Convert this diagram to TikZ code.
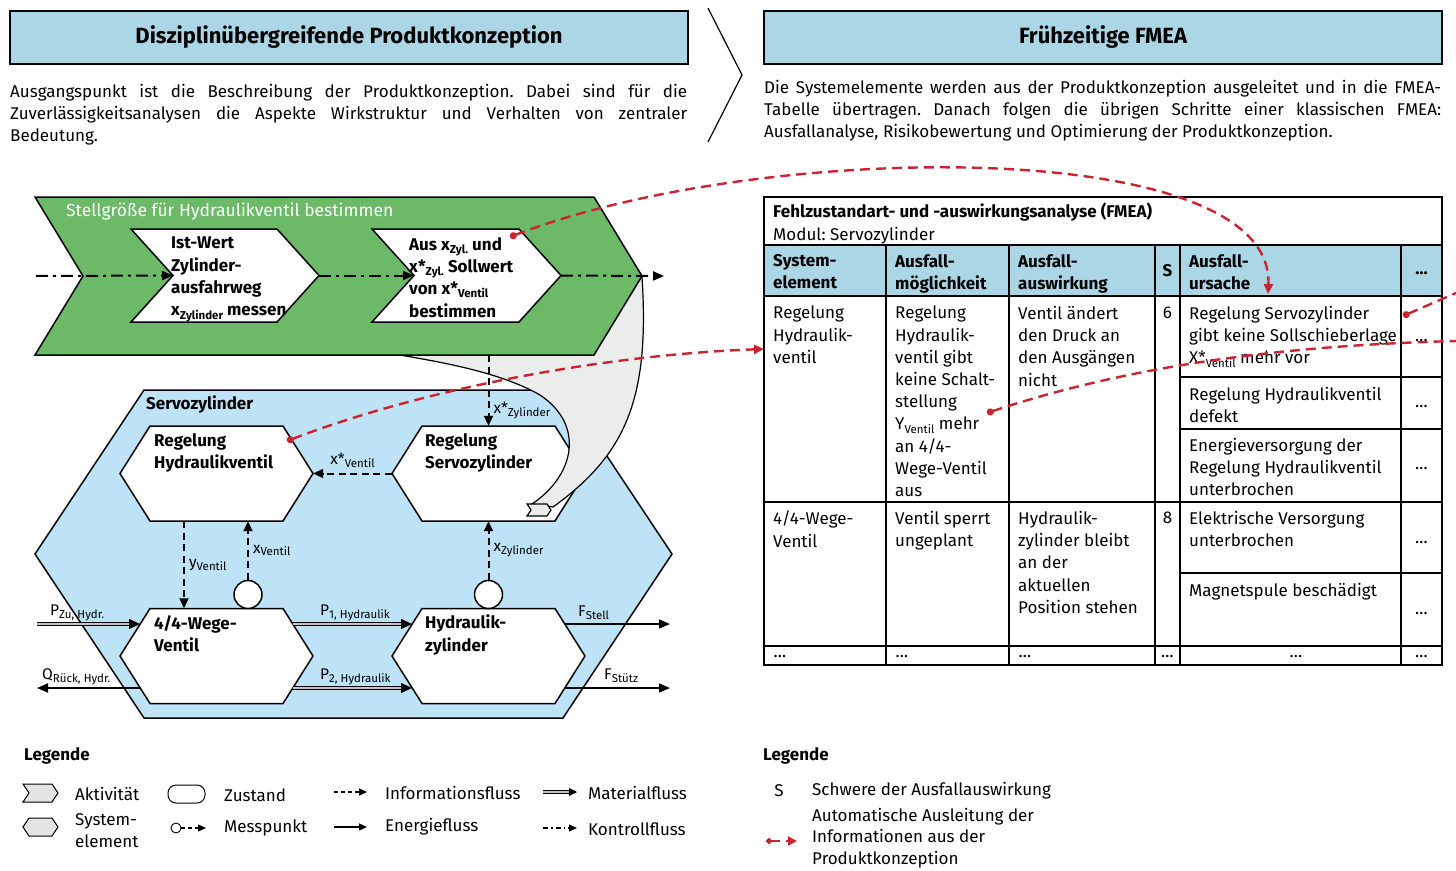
\documentclass[tikz,border=0pt]{standalone}
\usepackage{fontspec}
\setmainfont{Fira Sans}
\usetikzlibrary{arrows.meta,calc}
\definecolor{hdrblue}{RGB}{170,214,229}
\definecolor{hexblue}{RGB}{190,227,246}
\definecolor{actgreen}{RGB}{108,186,104}
\definecolor{ribgray}{RGB}{235,236,236}
\definecolor{fmeared}{RGB}{204,36,46}
\definecolor{icongray}{RGB}{228,228,228}
\newcommand{\ftext}{\fontsize{17}{22.2}\selectfont}
\newcommand{\flab}{\fontsize{15.5}{18}\selectfont}
\newcommand{\lidx}[1]{\raisebox{-0.35ex}{\fontsize{11.5}{12}\selectfont #1}}
\newcommand{\hexshape}[7]{%
  \path[#7] (#2-#4,#3) -- (#2-#4+#6,#3-#5) -- (#2+#4-#6,#3-#5) -- (#2+#4,#3) -- (#2+#4-#6,#3+#5) -- (#2-#4+#6,#3+#5) -- cycle;
  \node[inner sep=0pt,minimum width=2*#4,minimum height=2*#5] (#1) at (#2,#3) {};}
\newcommand{\chevshape}[7]{%
  \path[#7] (#2,#4) -- (#3,#4) -- (#3+#6,{(#4+#5)/2}) -- (#3,#5) -- (#2,#5) -- (#2+#6,{(#4+#5)/2}) -- cycle;
  \coordinate (#1-in) at (#2+#6,{(#4+#5)/2});
  \coordinate (#1-out) at (#3+#6,{(#4+#5)/2});
  \node[inner sep=0pt,minimum width=#3+#6-#2,minimum height=#5-#4] (#1) at ({(#2+#3+#6)/2},{(#4+#5)/2}) {};}
\frenchspacing
\begin{document}
\begin{tikzpicture}[x=1pt,y=-1pt,
  every node/.style={inner sep=0pt},
  hdrbox/.style={draw=black,line width=1.5pt,fill=hdrblue,font=\bfseries\fontsize{22}{26}\selectfont},
  para/.style={anchor=north west,align=justify,font=\ftext},
  hexfill/.style={fill=white,draw=black,line width=1.5pt},
  hextext/.style={anchor=north west,align=left,font=\bfseries\fontsize{17}{22.3}\selectfont},
  info/.style={line width=2pt,dash pattern=on 7pt off 4.5pt,-{Triangle[length=10pt,width=9pt]}},
  ctrl/.style={line width=2pt,dash pattern=on 12pt off 5pt on 3pt off 5pt,-{Triangle[length=11pt,width=9pt]}},
  energy/.style={line width=1.6pt,-{Triangle[length=11pt,width=9pt]}},
  mat/.style={draw=black,double=gray!45,double distance=2.2pt,line width=1.1pt,-{Triangle[length=11pt,width=10pt]}},
  mcircle/.style={circle,draw=black,fill=white,line width=1.5pt,minimum size=28pt},
  lab/.style={font=\flab},
  tcell/.style={anchor=north west,align=left,font=\ftext},
  thead/.style={anchor=north west,align=left,font=\bfseries\ftext},
  tdots/.style={font=\ftext},
  reddash/.style={draw=fmeared,line width=2.4pt,dash pattern=on 10pt off 6pt},
  redarrow/.style={reddash,{Circle[length=7pt]}-{Triangle[length=10pt,width=9pt]}},
  legtext/.style={anchor=west,font=\ftext}]
\useasboundingbox (0,0) rectangle (1456,870);

% ---------------- headers ----------------
\node[hdrbox,minimum width=678,minimum height=53] (hL) at (349,37.5) {Disziplinübergreifende Produktkonzeption};
\node[hdrbox,minimum width=678,minimum height=53] (hR) at (1103,37.5) {Frühzeitige FMEA};
\draw[line width=1.2pt] (708,8) -- (742,75) -- (708,142);
\node[para,text width=677] (pL) at (10,84) {Ausgangspunkt ist die Beschreibung der Produktkonzeption. Dabei sind für die\linebreak Zuverlässigkeitsanalysen die Aspekte Wirkstruktur und Verhalten von zentraler\linebreak Bedeutung.};
\node[para,text width=677] (pR) at (764,80) {Die Systemelemente werden aus der Produktkonzeption ausgeleitet und in die FMEA-\linebreak Tabelle übertragen. Danach folgen die übrigen Schritte einer klassischen FMEA:\linebreak Ausfallanalyse, Risikobewertung und Optimierung der Produktkonzeption.};

% ---------------- system elements ----------------
\hexshape{servo}{353.5}{554}{318.5}{164}{109}{fill=hexblue,draw=black,line width=1.5pt}
\hexshape{rhv}{216.5}{473.5}{96.5}{47.5}{30}{hexfill}
\hexshape{rsz}{488.5}{473.5}{96.5}{47.5}{30}{hexfill}
\hexshape{wv}{216.5}{656}{96.5}{47.5}{30}{hexfill}
\hexshape{hz}{488.5}{656}{96.5}{47.5}{30}{hexfill}
\node[anchor=west,font=\bfseries\ftext] (servoT) at (146,404) {Servozylinder};
\node[hextext] (rhvT) at (154,433) {Regelung\\Hydraulikventil};
\node[hextext] (rszT) at (425,433) {Regelung\\Servozylinder};
\node[hextext] (wvT) at (154,615) {4/4-Wege-\\Ventil};
\node[hextext] (hzT) at (425,615) {Hydraulik-\\zylinder};

% ---------------- grey ribbon ----------------
\path[fill=ribgray,draw=black,line width=1.2pt] (642,277) .. controls (650,400) and (625,455) .. (553,507) -- (532,504) .. controls (575,475) and (585,425) .. (540,395) .. controls (500,372) and (440,362) .. (400,355) -- cycle;
\path[fill=ribgray,draw=black,line width=1.2pt] (527,504) -- (547,504) -- (551,510) -- (547,516) -- (527,516) -- (531,510) -- cycle;

% ---------------- activities ----------------
\chevshape{act}{35}{594}{197}{355}{48}{fill=actgreen,draw=black,line width=1.5pt}
\chevshape{c1}{131}{277}{229}{322}{42}{fill=white,draw=black,line width=1.5pt}
\chevshape{c2}{372}{519}{229}{322}{42}{fill=white,draw=black,line width=1.5pt}
\node[anchor=west,text=white,font=\fontsize{17.5}{20}\selectfont] (actT) at (66,212) {Stellgröße für Hydraulikventil bestimmen};
\node[hextext] (c1T) at (171,237) {Ist-Wert\\Zylinder-\\ausfahrweg\\x\lidx{Zylinder} messen};
\node[hextext] (c2T) at (409,237) {Aus x\lidx{Zyl.} und\\x*\lidx{Zyl.} Sollwert\\von x*\lidx{Ventil}\\bestimmen};
\coordinate (flowStart) at (36,276);
\draw[ctrl] (flowStart) -- (c1-in);
\draw[ctrl] (c1-out) -- (c2-in);
\draw[ctrl] (c2-out) -- ([xshift=22pt]act-out);

% ---------------- information flows ----------------
\node[mcircle] (mV) at (248,594.5) {};
\node[mcircle] (mZ) at (488.5,594.5) {};
\draw[info] (act.south -| rsz.north) -- (rsz.north) node[pos=0.78,right=4pt,lab] {x*\lidx{Zylinder}};
\draw[info] (rsz.west) -- (rhv.east) node[midway,above=5pt,lab] {x*\lidx{Ventil}};
\draw[info] ([xshift=-32.5pt]rhv.south) -- ([xshift=-32.5pt]wv.north) node[midway,right=4pt,lab] {y\lidx{Ventil}};
\draw[info] (mV.north) -- ([xshift=31.5pt]rhv.south) node[midway,right=4pt,lab] {x\lidx{Ventil}};
\draw[info] (mZ.north) -- (rsz.south) node[midway,right=4pt,lab] {x\lidx{Zylinder}};

% ---------------- material / energy flows ----------------
\coordinate (pzuS) at (37,624);
\coordinate (qEnd) at (37,688);
\coordinate (fstellE) at (670,624);
\coordinate (fstuetzE) at (670,688);
\draw[mat] (pzuS) -- ($(wv.west)+(20.2,-32)$);
\draw[energy] ($(wv.west)+(20.2,32)$) -- (qEnd);
\draw[mat] ($(wv.east)+(-20.2,-32)$) -- ($(hz.west)+(20.2,-32)$);
\draw[mat] ($(wv.east)+(-20.2,32)$) -- ($(hz.west)+(20.2,32)$);
\draw[energy] ($(hz.east)+(-20.2,-32)$) -- (fstellE);
\draw[energy] ($(hz.east)+(-20.2,32)$) -- (fstuetzE);
\node[lab,anchor=west] (lPzu) at (50,613) {P\lidx{Zu, Hydr.}};
\node[lab,anchor=west] (lQ) at (42,677) {Q\lidx{Rück, Hydr.}};
\node[lab,anchor=west] (lP1) at (320,613) {P\lidx{1, Hydraulik}};
\node[lab,anchor=west] (lP2) at (320,677) {P\lidx{2, Hydraulik}};
\node[lab,anchor=west] (lFs) at (578,613) {F\lidx{Stell}};
\node[lab,anchor=west] (lFst) at (604,676) {F\lidx{Stütz}};

% ---------------- FMEA table ----------------
\fill[hdrblue] (764,245) rectangle (1442,296);
\node[draw=black,line width=1.6pt,minimum width=678,minimum height=468] (tab) at (1103,431) {};
\draw[line width=2.4pt] (764,245) -- (1442,245);
\draw[line width=2.4pt] (764,296) -- (1442,296);
\foreach \cx in {886,1009,1155,1180,1401} {\draw[line width=1.2pt] (\cx,245) -- (\cx,665);}
\draw[line width=1.2pt] (764,502) -- (1442,502);
\draw[line width=1.2pt] (764,646) -- (1442,646);
\draw[line width=1.2pt] (1180,377) -- (1442,377);
\draw[line width=1.2pt] (1180,429) -- (1442,429);
\draw[line width=1.2pt] (1180,573) -- (1442,573);
\node[tcell] (tTitle) at (773,203) {\textbf{Fehlzustandart- und -auswirkungsanalyse (FMEA)}\\Modul: Servozylinder};
\node[thead] (th1) at (773,254) {System-\\element};
\node[thead] (th2) at (895,254) {Ausfall-\\möglichkeit};
\node[thead] (th3) at (1018,254) {Ausfall-\\auswirkung};
\node[font=\bfseries\ftext] (th4) at (1167.5,271) {S};
\node[thead] (th5) at (1189,254) {Ausfall-\\ursache};
\node[font=\bfseries\ftext] (th6) at (1421.5,273) {…};
\node[tcell] (r1c1) at (773,306) {Regelung\\Hydraulik-\\ventil};
\node[tcell] (r1c2) at (895,306) {Regelung\\Hydraulik-\\ventil gibt\\keine Schalt-\\stellung\\Y\lidx{Ventil} mehr\\an 4/4-\\Wege-Ventil\\aus};
\node[tcell] (r1c3) at (1018,306) {Ventil ändert\\den Druck an\\den Ausgängen\\nicht};
\node[font=\ftext] (r1c4) at (1167.5,313) {6};
\node[tcell] (r1c5a) at (1189,306) {Regelung Servozylinder\\gibt keine Sollschieberlage\\X*\lidx{Ventil} mehr vor};
\node[tdots] (r1c6a) at (1421.5,341) {…};
\node[tcell] (r1c5b) at (1189,387) {Regelung Hydraulikventil\\defekt};
\node[tdots] (r1c6b) at (1421.5,407) {…};
\node[tcell] (r1c5c) at (1189,438) {Energieversorgung der\\Regelung Hydraulikventil\\unterbrochen};
\node[tdots] (r1c6c) at (1421.5,469) {…};
\node[tcell] (r2c1) at (773,511) {4/4-Wege-\\Ventil};
\node[tcell] (r2c2) at (895,511) {Ventil sperrt\\ungeplant};
\node[tcell] (r2c3) at (1018,511) {Hydraulik-\\zylinder bleibt\\an der\\aktuellen\\Position stehen};
\node[font=\ftext] (r2c4) at (1167.5,518) {8};
\node[tcell] (r2c5a) at (1189,511) {Elektrische Versorgung\\unterbrochen};
\node[tdots] (r2c6a) at (1421.5,543) {…};
\node[tcell] (r2c5b) at (1189,583) {Magnetspule beschädigt};
\node[tdots] (r2c6b) at (1421.5,614) {…};
\node[tdots] (r3c1) at (780,657) {…};
\node[tdots] (r3c2) at (902,657) {…};
\node[tdots] (r3c3) at (1025,657) {…};
\node[tdots] (r3c4) at (1167.5,657) {…};
\node[tdots] (r3c5) at (1296,657) {…};
\node[tdots] (r3c6) at (1421.5,657) {…};

% ---------------- red automatic derivation links ----------------
\coordinate (r1s) at (510,237);
\coordinate (r1t) at (1268,294);
\coordinate (r2s) at (287,441);
\coordinate (r2t) at (764,349);
\coordinate (r3s) at (987,413);
\coordinate (r3t) at (1456,341);
\coordinate (r4s) at (1403,316);
\coordinate (r4t) at (1456,293);
\draw[redarrow] (r1s) .. controls (760,140) and (1275,135) .. (r1t);
\draw[redarrow] (r2s) .. controls (420,390) and (600,355) .. (r2t);
\draw[reddash,{Circle[length=7pt]}-] (r3s) .. controls (1140,362) and (1300,345) .. (r3t);
\draw[reddash,{Circle[length=7pt]}-] (r4s) -- (r4t);

% ---------------- legend left ----------------
\node[anchor=west,font=\bfseries\ftext] (legL) at (24,756) {Legende};
\path[fill=icongray,draw=black,line width=1pt] (23,784) -- (52,784) -- (58,793) -- (52,802) -- (23,802) -- (29,793) -- cycle;
\node[legtext] (lgAkt) at (75,794) {Aktivität};
\path[fill=icongray,draw=black,line width=1pt] (23,827) -- (29,818) -- (52,818) -- (58,827) -- (52,836) -- (29,836) -- cycle;
\node[legtext,align=left] (lgSys) at (75,831) {System-\\element};
\node[draw=black,line width=1pt,rounded corners=8pt,minimum width=37,minimum height=18] (lgZicon) at (186.5,794) {};
\node[legtext] (lgZ) at (224,795) {Zustand};
\node[circle,draw=black,line width=0.9pt,minimum size=10pt] (lgMc) at (176,828) {};
\coordinate (lgMe) at (206,828);
\draw[line width=1.3pt,dash pattern=on 4pt off 3pt,-{Triangle[length=8pt,width=7pt]}] (lgMc.east) -- (lgMe);
\node[legtext] (lgM) at (224,828) {Messpunkt};
\coordinate (lgI1) at (334,792); \coordinate (lgI2) at (367,792);
\draw[line width=1.3pt,dash pattern=on 4pt off 3pt,-{Triangle[length=8pt,width=7pt]}] (lgI1) -- (lgI2);
\node[legtext] (lgI) at (385,793) {Informationsfluss};
\coordinate (lgE1) at (334,827); \coordinate (lgE2) at (367,827);
\draw[line width=1.3pt,-{Triangle[length=8pt,width=7pt]}] (lgE1) -- (lgE2);
\node[legtext] (lgE) at (385,827) {Energiefluss};
\coordinate (lgMa1) at (543,792); \coordinate (lgMa2) at (577,792);
\draw[draw=black,double=gray!45,double distance=1.8pt,line width=0.9pt,-{Triangle[length=8pt,width=8pt]}] (lgMa1) -- (lgMa2);
\node[legtext] (lgMa) at (588,793) {Materialfluss};
\coordinate (lgK1) at (543,828); \coordinate (lgK2) at (577,828);
\draw[line width=1.3pt,dash pattern=on 5pt off 3pt on 1.5pt off 3pt,-{Triangle[length=8pt,width=7pt]}] (lgK1) -- (lgK2);
\node[legtext] (lgK) at (588,829) {Kontrollfluss};

% ---------------- legend right ----------------
\node[anchor=west,font=\bfseries\ftext] (legR) at (763,756) {Legende};
\node[font=\ftext] (lgS) at (779,791) {S};
\node[legtext] (lgSt) at (812,791) {Schwere der Ausfallauswirkung};
\coordinate (lgR1) at (766,841); \coordinate (lgR2) at (797,841);
\draw[draw=fmeared,line width=2.2pt,dash pattern=on 9pt off 6pt,{Circle[length=6pt]}-{Triangle[length=9pt,width=9pt]}] (lgR1) -- (lgR2);
\node[anchor=north west,align=left,font=\fontsize{17}{21.5}\selectfont] (lgRt) at (812,808) {Automatische Ausleitung der\\Informationen aus der\\Produktkonzeption};
\end{tikzpicture}
\end{document}
